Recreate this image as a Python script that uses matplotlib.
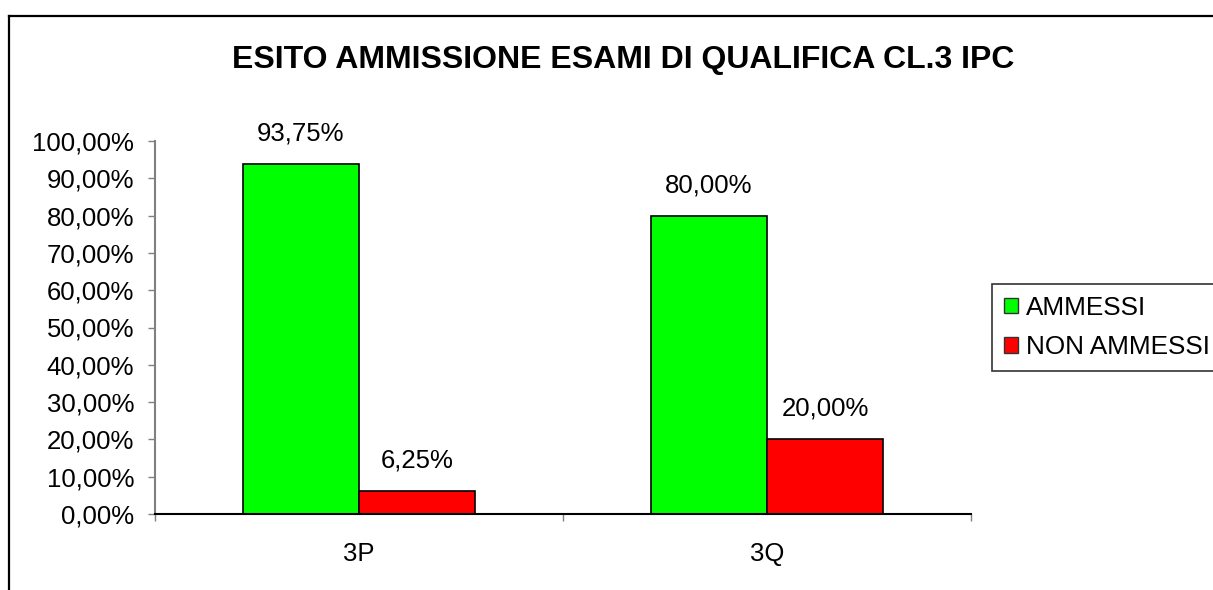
import matplotlib.pyplot as plt
from matplotlib.patches import Patch
from matplotlib.lines import Line2D
import numpy as np

plt.rcParams['font.family'] = ['Liberation Sans', 'DejaVu Sans']

# data
classes = ['3P', '3Q']
ammessi = [0.9375, 0.80]
non_ammessi = [0.0625, 0.20]
series_names = ['AMMESSI', 'NON AMMESSI']
colors = ['#00ff00', '#ff0000']
title = 'ESITO AMMISSIONE ESAMI DI QUALIFICA CL.3 IPC'

FS = 18.5


def pct(v):
    return f"{v * 100:.2f}%".replace('.', ',')


fig = plt.figure(figsize=(12.13, 5.9), dpi=100)
ax = fig.add_axes([155 / 1213, 1 - 514 / 590, (971 - 155) / 1213, (514 - 141) / 590])

# outer chart frame: only top and left are visible, the rest is cut off
fx, fy = 9 / 1213, 1 - 16 / 590
fig.lines.append(Line2D([fx, 1.01], [fy, fy], transform=fig.transFigure,
                        color='black', linewidth=1.6))
fig.lines.append(Line2D([fx, fx], [-0.01, fy], transform=fig.transFigure,
                        color='black', linewidth=1.6))

x = np.arange(len(classes))
w = 0.2854
bars1 = ax.bar(x - w / 2, ammessi, w, color=colors[0], edgecolor='black', linewidth=1.2)
bars2 = ax.bar(x + w / 2, non_ammessi, w, color=colors[1], edgecolor='black', linewidth=1.2)

for bars, vals in [(bars1, ammessi), (bars2, non_ammessi)]:
    for b, v in zip(bars, vals):
        ax.annotate(pct(v), (b.get_x() + b.get_width() / 2, v),
                    xytext=(0, 22), textcoords='offset points',
                    ha='center', va='center', fontsize=FS)

ax.set_ylim(0, 1.0)
ax.set_xlim(-0.5, len(classes) - 0.5)
yt = np.linspace(0, 1, 11)
ax.set_yticks(yt)
ax.set_yticklabels([pct(v) for v in yt])
ax.tick_params(axis='y', length=5, width=1, color='#808080', pad=10, labelsize=FS)

# boundary ticks on x axis, labels centred on the groups
ax.set_xticks(np.arange(len(classes) + 1) - 0.5)
ax.set_xticklabels([])
ax.set_xticks(x, minor=True)
ax.set_xticklabels(classes, minor=True)
ax.tick_params(axis='x', which='major', length=5, width=1, color='#808080')
ax.tick_params(axis='x', which='minor', length=0, pad=20, labelsize=FS)

for s in ['top', 'right']:
    ax.spines[s].set_visible(False)
ax.spines['left'].set_color('#808080')
ax.spines['left'].set_linewidth(1.5)
ax.spines['bottom'].set_color('black')
ax.spines['bottom'].set_linewidth(1.5)

fig.text(623 / 1213, 1 - 60 / 590, title, ha='center', va='center',
         fontsize=23, fontweight='bold')

handles = [Patch(facecolor=c, edgecolor='#333333', linewidth=1) for c in colors]
leg = fig.legend(handles, series_names, loc='upper left',
                 bbox_to_anchor=(992 / 1213, 1 - 284 / 590),
                 fontsize=18.8, handlelength=0.55, handleheight=0.55,
                 handletextpad=0.3, labelspacing=0.6, borderpad=0.45,
                 frameon=True, fancybox=False, borderaxespad=0)
leg.get_frame().set_edgecolor('black')
leg.get_frame().set_linewidth(1.2)

fig.savefig('out.png', dpi=100)
